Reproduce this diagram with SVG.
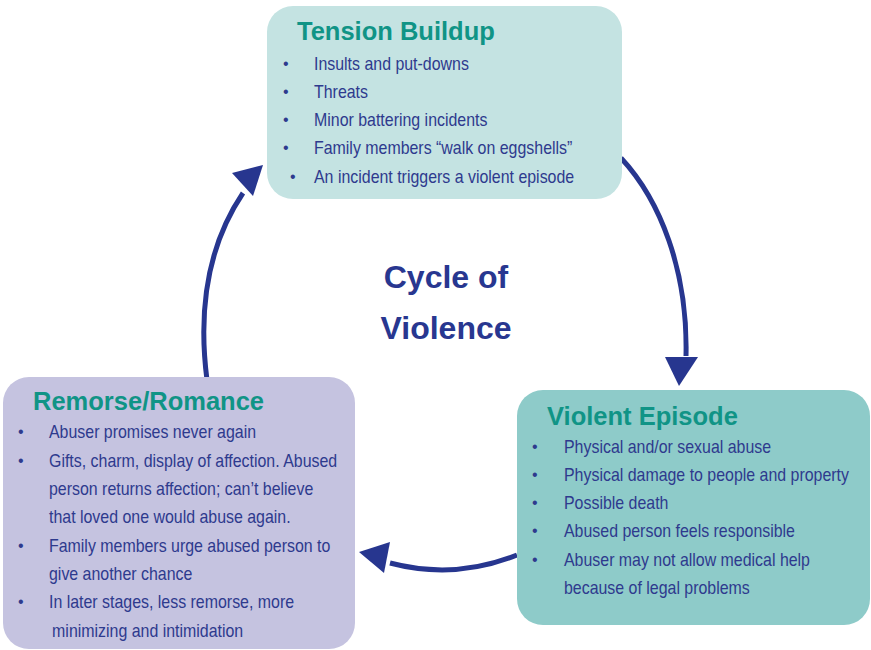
<svg xmlns="http://www.w3.org/2000/svg" width="871" height="650" viewBox="0 0 871 650">
<style>
.title{font-family:"Liberation Sans",Arial,sans-serif;font-weight:bold;font-size:25.5px;fill:#109486}
.item{font-family:"Liberation Sans",Arial,sans-serif;font-size:18px;fill:#2e3a8e}
.bul{font-family:"Liberation Sans",Arial,sans-serif;font-size:16px;fill:#2e3a8e}
.center{font-family:"Liberation Sans",Arial,sans-serif;font-weight:bold;font-size:32px;fill:#283790;text-anchor:middle}
.arc{fill:none;stroke:#27368f;stroke-width:5}
.head{fill:#27368f}
</style>
<rect width="871" height="650" fill="#ffffff"/>
<g id="connectors">
<path class="arc" d="M621,158 C660,200 688,270 686,356"/>
<polygon class="head" points="665,357 698,357 679,386"/>
<path class="arc" d="M517,555 Q455,580 390,563"/>
<polygon class="head" points="359,552 390,542 384,573"/>
<path class="arc" d="M207,380 C198,310 208,245 243,193"/>
<polygon class="head" points="232,173 263,165 253,196"/>
</g>
<g id="tension">
<rect x="267" y="6" width="355" height="193" rx="26" fill="#c4e3e2"/>
<text class="title" x="297" y="40">Tension Buildup</text>
<text class="bul" x="283" y="69">•</text>
<text class="bul" x="283" y="97">•</text>
<text class="bul" x="283" y="125">•</text>
<text class="bul" x="283" y="153">•</text>
<text class="bul" x="290" y="182">•</text>
<g transform="translate(314,0) scale(0.885,1)">
<text class="item" x="0" y="70">Insults and put-downs</text>
<text class="item" x="0" y="98">Threats</text>
<text class="item" x="0" y="126">Minor battering incidents</text>
<text class="item" x="0" y="154">Family members “walk on eggshells”</text>
<text class="item" x="0" y="183">An incident triggers a violent episode</text>
</g>
</g>
<g id="violent">
<rect x="517" y="390" width="353" height="235" rx="26" fill="#8ecbc9"/>
<text class="title" x="547" y="425">Violent Episode</text>
<text class="bul" x="532" y="452">•</text>
<text class="bul" x="532" y="480">•</text>
<text class="bul" x="532" y="508">•</text>
<text class="bul" x="532" y="536">•</text>
<text class="bul" x="532" y="565">•</text>
<g transform="translate(564,0) scale(0.885,1)">
<text class="item" x="0" y="453">Physical and/or sexual abuse</text>
<text class="item" x="0" y="481">Physical damage to people and property</text>
<text class="item" x="0" y="509">Possible death</text>
<text class="item" x="0" y="537">Abused person feels responsible</text>
<text class="item" x="0" y="566">Abuser may not allow medical help</text>
<text class="item" x="0" y="594">because of legal problems</text>
</g>
</g>
<g id="remorse">
<rect x="3" y="377" width="352" height="272" rx="26" fill="#c5c3e0"/>
<text class="title" x="33" y="410">Remorse/Romance</text>
<text class="bul" x="18" y="437">•</text>
<text class="bul" x="18" y="466">•</text>
<text class="bul" x="18" y="551">•</text>
<text class="bul" x="18" y="607">•</text>
<g transform="translate(49,0) scale(0.885,1)">
<text class="item" x="0" y="438">Abuser promises never again</text>
<text class="item" x="0" y="467">Gifts, charm, display of affection. Abused</text>
<text class="item" x="0" y="495">person returns affection; can’t believe</text>
<text class="item" x="0" y="523">that loved one would abuse again.</text>
<text class="item" x="0" y="552">Family members urge abused person to</text>
<text class="item" x="0" y="580">give another chance</text>
<text class="item" x="0" y="608">In later stages, less remorse, more</text>
<text class="item" x="3.5" y="637">minimizing and intimidation</text>
</g>
</g>
<g id="center-label">
<text class="center" x="446" y="288">Cycle of</text>
<text class="center" x="446" y="339">Violence</text>
</g>
</svg>
